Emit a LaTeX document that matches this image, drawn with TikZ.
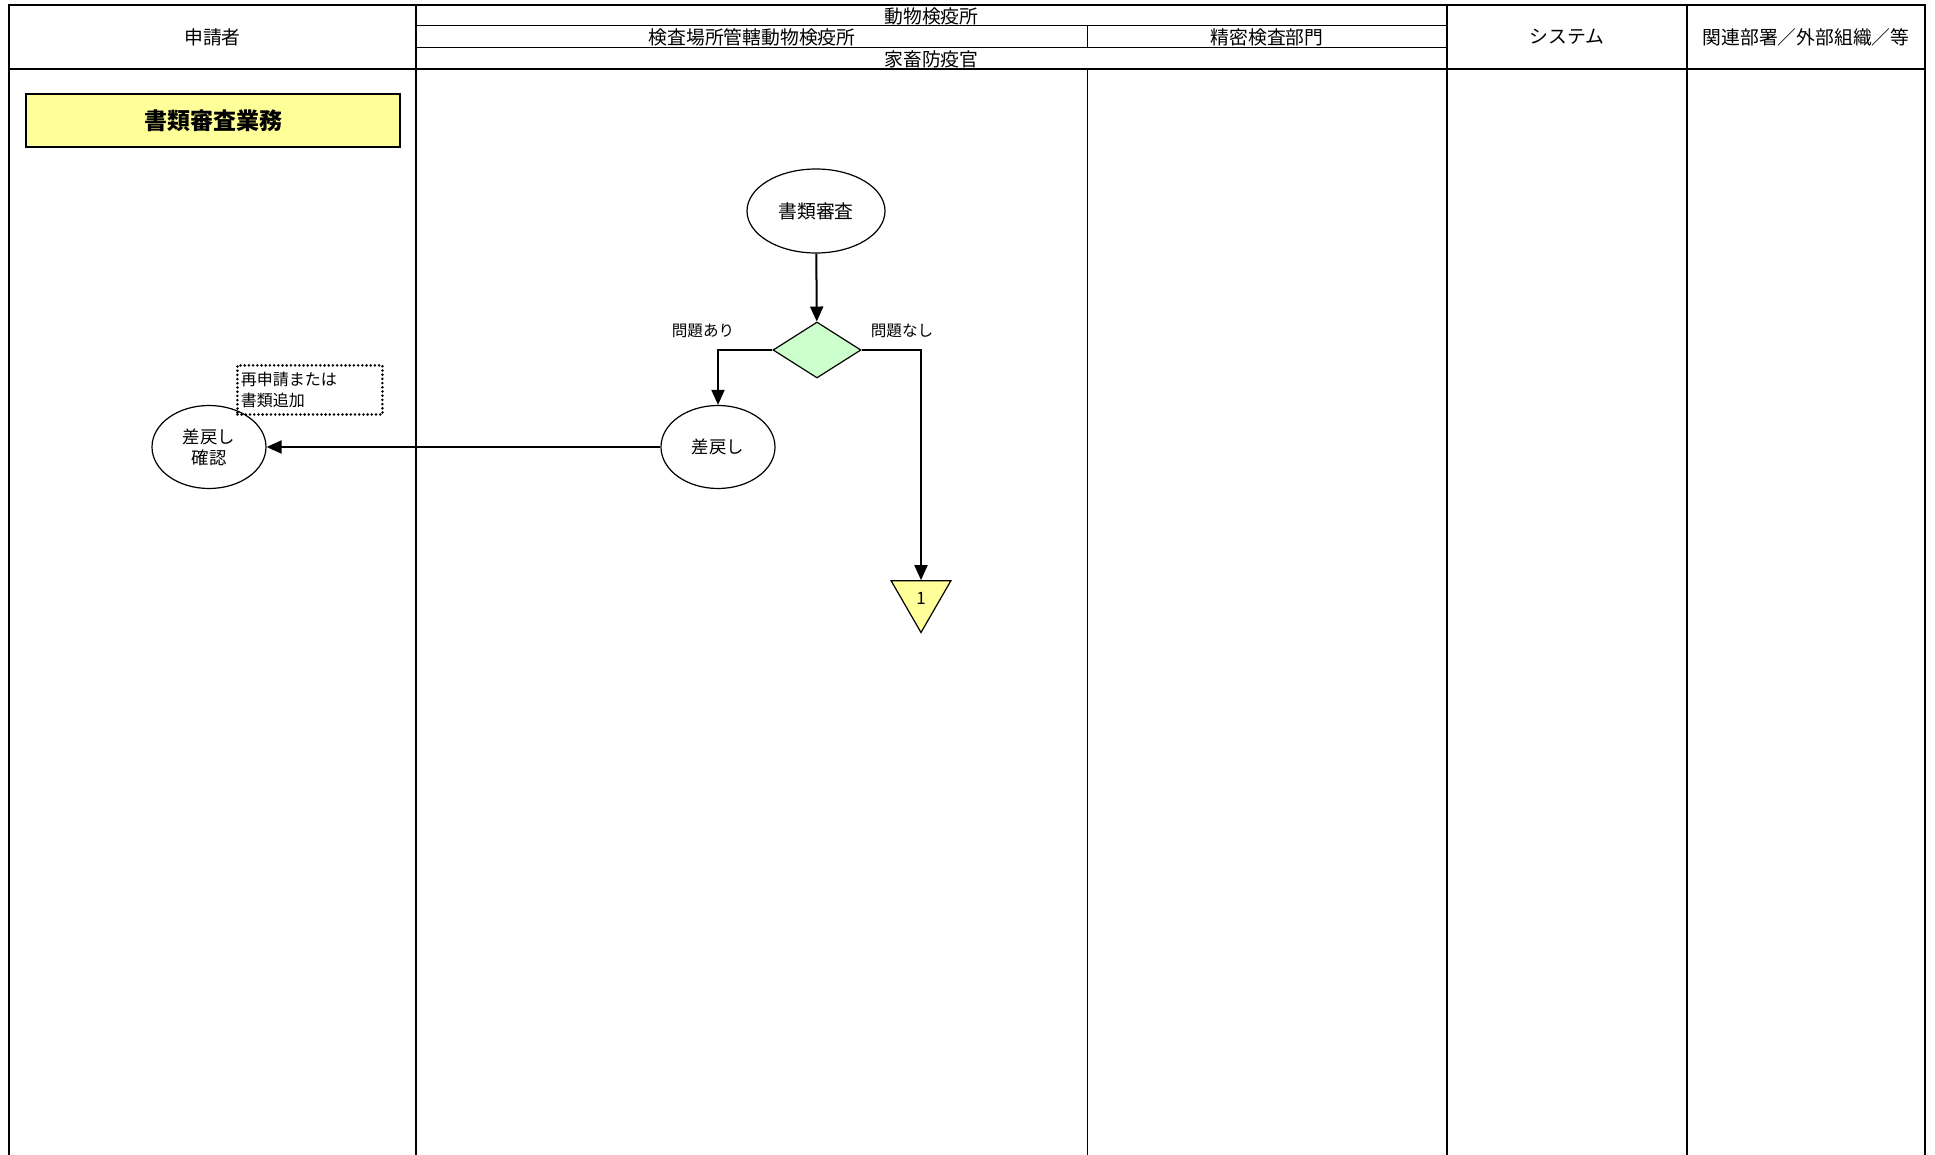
\documentclass[tikz,border=0pt]{standalone}
\usepackage{fontspec}
\setmainfont{Noto Sans CJK JP}
\definecolor{memoyellow}{RGB}{255,255,153}
\definecolor{branchgreen}{RGB}{204,255,204}
\usetikzlibrary{positioning, arrows.meta, shapes.geometric}

\begin{document}
\begin{tikzpicture}[
    x=0.5pt, y=-0.5pt,
    lane/.style={line width=1pt},
    subline/.style={line width=0.5pt},
    head/.style={font=\fontsize{9.4}{10}\selectfont, inner sep=0pt},
    proc/.style={draw, ellipse, line width=0.6pt, inner sep=0pt, minimum width=57pt,
      minimum height=41.5pt, align=center, font=\fontsize{8.7}{10.5}\selectfont},
    judge/.style={draw, diamond, fill=branchgreen, line width=0.6pt, inner sep=0pt,
      minimum width=44pt, minimum height=28pt},
    flow/.style={line width=1pt, -{Triangle[length=7.5pt, width=6.5pt]}},
    cond/.style={font=\fontsize{7.8}{9}\selectfont, inner sep=0pt},
  ]
    \useasboundingbox (0,0) rectangle (1935,1155);

    \draw[lane] (9,1155) -- (9,5) -- (1925,5) -- (1925,1155);
    \draw[lane] (9,69) -- (1925,69);
    \foreach \x in {416,1447,1687} \draw[lane] (\x,5) -- (\x,1155);
    \draw[subline] (416,26) -- (1447,26) (416,48) -- (1447,48);
    \draw[subline] (1087,26) -- (1087,48) (1087,69) -- (1087,1155);

    \node[head] (h1) at (212.5,37) {申請者};
    \node[head] (h2) at (931.5,16) {動物検疫所};
    \node[head] (h3) at (752,37) {検査場所管轄動物検疫所};
    \node[head] (h4) at (1267,37) {精密検査部門};
    \node[head] (h5) at (931.5,59) {家畜防疫官};
    \node[head] (h6) at (1567,37) {システム};
    \node[head] (h7) at (1806,37) {関連部署／外部組織／等};

    \node[draw, fill=memoyellow, line width=0.6pt, minimum width=187pt, minimum height=26.5pt,
      font=\fontsize{11.5}{13}\selectfont\bfseries] (ttl) at (213,120.5) {書類審査業務};

    \node[proc, minimum width=69pt, minimum height=42pt, font=\fontsize{9.4}{10}\selectfont] (rev) at (816,211) {書類審査};
    \node[judge] (chk) at (817,350) {};
    \node[proc] (ret) at (718,447) {差戻し};
    \node[proc] (conf) at (209,447) {差戻し\\確認};
    \node[draw, line width=1.4pt, line cap=round, dash pattern=on 0pt off 2.1pt, anchor=north west, text width=69pt,
      inner xsep=1.75pt, minimum height=22pt, align=left, font=\fontsize{8}{10.5}\selectfont] (note) at (236,364) {再申請または\\書類追加};
    \node[regular polygon, regular polygon sides=3, shape border rotate=180, draw, fill=memoyellow,
      line width=0.6pt, inner sep=0pt, minimum size=34.5pt, font=\fontsize{8.5}{9}\selectfont] (con1) at (921,598) {1};

    \node[cond] (yes) at (703,331) {問題あり};
    \node[cond] (no) at (902,331) {問題なし};

    \draw[flow] (rev) -- (chk);
    \draw[flow] (chk.west) -| (ret);
    \draw[flow] (chk.east) -| (con1);
    \draw[flow] (ret) -- (conf);
  \end{tikzpicture}
\end{document}
